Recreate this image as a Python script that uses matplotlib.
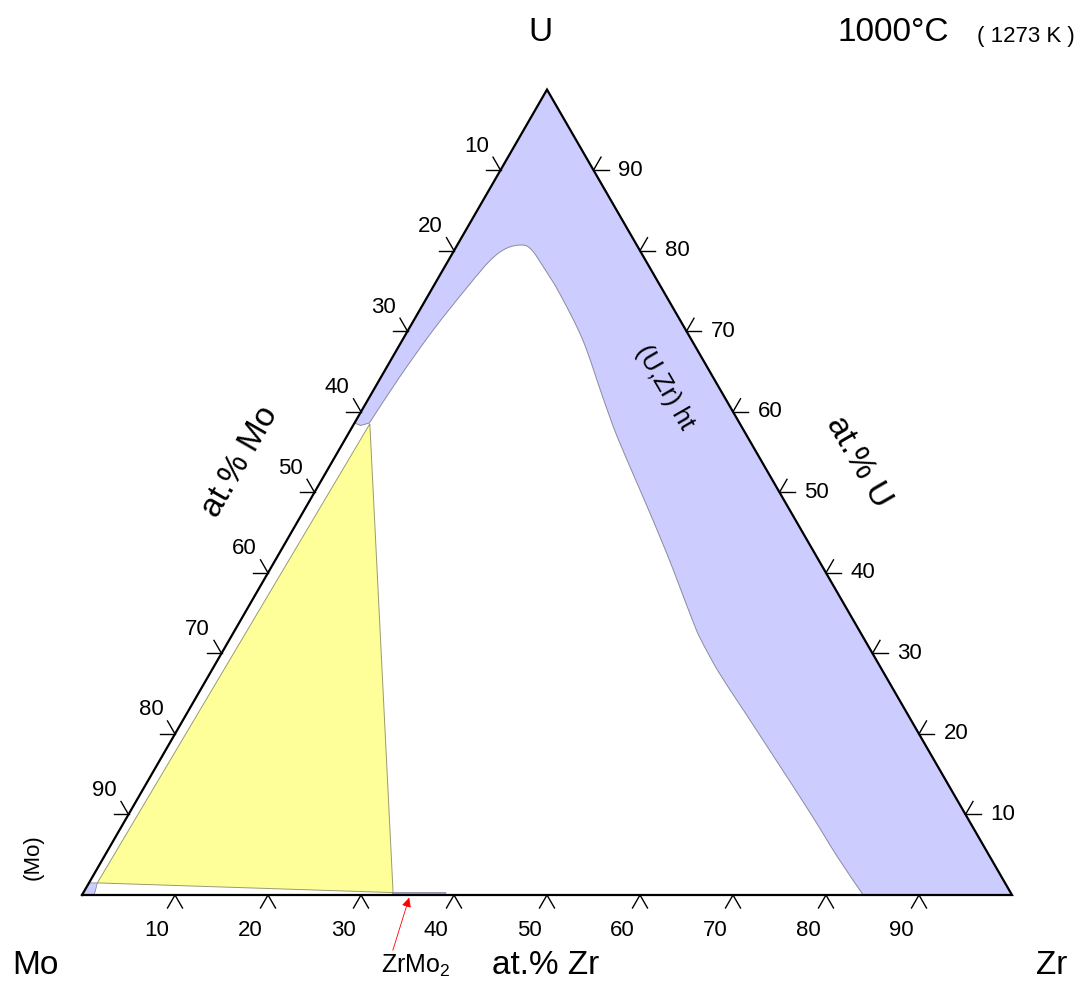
import numpy as np
import matplotlib.pyplot as plt
from matplotlib.path import Path
from matplotlib.patches import PathPatch

plt.rcParams['font.family'] = ['Liberation Sans', 'DejaVu Sans']
plt.rcParams['mathtext.default'] = 'regular'

H = np.sqrt(3) / 2
S = 930.0  # pixels per unit side

# tick values along each side (at.%)
ticks = [10, 20, 30, 40, 50, 60, 70, 80, 90]

# (U,Zr) ht boundary as (at.% Zr, at.% U)
# first three points are the little notch on the Mo-U side
notch_zr = [0.0, 0.8, 1.6]
notch_u = [58.6, 58.3, 58.6]
bcc_zr = [1.6, 2.0, 2.7, 3.7, 4.5, 5.5, 7.0, 8.3, 10.6, 14.0, 19.4,
          25.1, 29.1, 34.5, 41.6, 48.6, 50.7, 54.7, 59.6, 66.2, 73.2, 78.9, 84.0]
bcc_u = [58.6, 64.3, 70.2, 75.5, 78.8, 80.3, 80.7, 80.1, 78.0, 74.7, 68.9,
         61.8, 56.9, 50.7, 42.5, 34.1, 31.7, 27.6, 23.0, 16.8, 10.2, 4.7, 0.0]

# three-phase triangle (Mo) + (U,Zr) + ZrMo2
tri_zr = [1.7, 0.9, 33.3]
tri_u = [58.5, 1.5, 0.3]

# (Mo) single phase corner
mo_zr = [0.0, 0.0, 0.9, 1.1, 1.3]
mo_u = [0.0, 1.5, 1.5, 0.8, 0.0]

# ZrMo2 homogeneity strip
zrmo2_zr = [33.3, 39.0, 39.0, 33.3]
zrmo2_u = [0.0, 0.0, 0.3, 0.3]


def tern(zr, u):
    zr = np.asarray(zr, float) / 100
    u = np.asarray(u, float) / 100
    return zr + u / 2, u * H


def px(xp, yp):
    # picture pixel -> axes units
    return (xp - 82) / S, (895 - yp) / S


def smooth(xs, ys):
    # Catmull-Rom through the points, as cubic bezier segments (no MOVETO)
    p = np.column_stack([xs, ys])
    p = np.vstack([p[0], p, p[-1]])
    verts = []
    for i in range(1, len(p) - 2):
        c1 = p[i] + (p[i + 1] - p[i - 1]) / 6
        c2 = p[i + 1] - (p[i + 2] - p[i]) / 6
        verts += [c1, c2, p[i + 1]]
    return verts, [Path.CURVE4] * len(verts)


fig = plt.figure(figsize=(10.81, 9.81), dpi=100)
ax = fig.add_axes([0, 0, 1, 1])
ax.set_xlim(-82 / S, 999 / S)
ax.set_ylim(-86 / S, 895 / S)
ax.axis('off')

blue = '#ccccff'
edge = '#8a8aa0'

# (U,Zr) ht band
nx, ny = tern(notch_zr, notch_u)
cx, cy = tern(bcc_zr, bcc_u)
cv, cc = smooth(cx, cy)
ux, uy = tern(0, 100)
zx0, zy0 = tern(100, 0)
verts = [(ux, uy)] + list(zip(nx, ny)) + cv + [(zx0, zy0), (ux, uy)]
codes = [Path.MOVETO] + [Path.LINETO] * 3 + cc + [Path.LINETO, Path.CLOSEPOLY]
ax.add_patch(PathPatch(Path(verts, codes), facecolor=blue, lw=0))
verts = list(zip(nx, ny)) + cv
codes = [Path.MOVETO] + [Path.LINETO] * 2 + cc
ax.add_patch(PathPatch(Path(verts, codes), fill=False, edgecolor=edge, lw=0.7))

# yellow three-phase field
tx, ty = tern(tri_zr, tri_u)
ax.fill(tx, ty, facecolor='#ffff99', edgecolor='#9a9a70', lw=0.7)

# (Mo) corner
mx, my = tern(mo_zr, mo_u)
ax.fill(mx, my, facecolor=blue, edgecolor=edge, lw=0.6)

# ZrMo2
zx, zy = tern(zrmo2_zr, zrmo2_u)
ax.fill(zx, zy, facecolor='#a8a8d8', edgecolor='#8888a8', lw=0.6)

# triangle outline
ox, oy = tern([0, 100, 0, 0], [0, 0, 100, 0])
ax.plot(ox, oy, color='black', lw=1.6, solid_joinstyle='miter')

# ticks
L = 15 / S
fs_tick = 16


def tick(x, y, angles):
    for a in angles:
        r = np.radians(a)
        ax.plot([x, x + L * np.cos(r)], [y, y + L * np.sin(r)], color='black', lw=1.0)


for t in ticks:
    x, y = tern(t, 0)
    tick(x, y, (240, 300))
    ax.text(x - 18 / S, y - 35 / S, str(t), ha='center', va='center', fontsize=fs_tick)

    x, y = tern(0, 100 - t)
    tick(x, y, (180, 120))
    ax.text(x - 24 / S, y + 24 / S, str(t), ha='center', va='center', fontsize=fs_tick)

    x, y = tern(100 - t, t)
    tick(x, y, (0, 60))
    ax.text(x + 37 / S, y, str(t), ha='center', va='center', fontsize=fs_tick)

# labels
big = 24
ax.text(*px(540, 32), 'U', ha='center', va='center', fontsize=big)
ax.text(*px(35, 965), 'Mo', ha='center', va='center', fontsize=big)
ax.text(*px(1052, 965), 'Zr', ha='center', va='center', fontsize=big)
ax.text(*px(893, 32), '1000°C', ha='center', va='center', fontsize=big)
ax.text(*px(1026, 36), '( 1273 K )', ha='center', va='center', fontsize=16)
ax.text(*px(546, 965), 'at.% Zr', ha='center', va='center', fontsize=24)
ax.text(*px(240, 462), 'at.% Mo', ha='center', va='center', fontsize=24, rotation=60)
ax.text(*px(858, 462), 'at.% U', ha='center', va='center', fontsize=24, rotation=-60)
ax.text(*px(665, 387), '(U,Zr) ht', ha='center', va='center', fontsize=18, rotation=-60)
ax.text(*px(33, 857), '(Mo)', ha='center', va='center', fontsize=16, rotation=90)
ax.text(*px(416, 966), 'ZrMo$_2$', ha='center', va='center', fontsize=18)

ax.annotate('', xy=px(410, 895), xytext=px(392, 953),
            arrowprops=dict(arrowstyle='-|>', color='red', lw=0.6, mutation_scale=14))

fig.savefig('out.png', dpi=100)
